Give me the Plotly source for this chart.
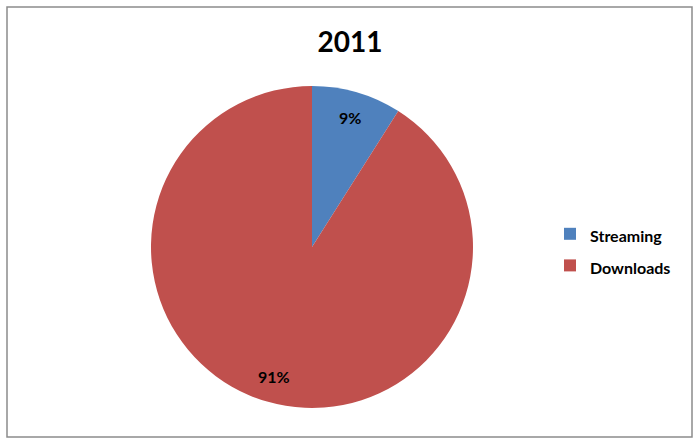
import math
import plotly.graph_objects as go

labels = ["Streaming", "Downloads"]
values = [9, 91]
colors = ["#4F81BD", "#C0504D"]
title_text = "2011"

W, H = 700, 445
# pie box in pixels (left, right, top, bottom)
PL, PR, PT, PB = 151, 473, 86, 408
LABEL_R = 0.84  # relative radial position of the percentage labels

fig = go.Figure(go.Pie(
    labels=labels,
    values=values,
    sort=False,
    direction="clockwise",
    rotation=0,
    marker=dict(colors=colors, line=dict(width=0)),
    textinfo="none",
    domain=dict(x=[PL / W, PR / W], y=[1 - PB / H, 1 - PT / H]),
    hoverinfo="label+percent",
))

# percentage labels placed at each slice's mid-angle, derived from the data
total = sum(values)
cx, cy = (PL + PR) / 2, (PT + PB) / 2
rad = (PR - PL) / 2
annotations = []
cum = 0
for v in values:
    mid = (cum + v / 2) / total * 2 * math.pi
    cum += v
    px = cx + LABEL_R * rad * math.sin(mid)
    py = cy - LABEL_R * rad * math.cos(mid)
    annotations.append(dict(
        x=px / W, y=1 - py / H, xref="paper", yref="paper",
        text="<b>%d%%</b>" % round(100 * v / total), showarrow=False,
        font=dict(family="Lato", size=16, color="black"),
        xanchor="center", yanchor="middle"))

fig.update_layout(
    width=W, height=H,
    margin=dict(l=0, r=0, t=0, b=0),
    paper_bgcolor="white",
    plot_bgcolor="white",
    title=dict(text="<b>" + title_text + "</b>", x=0.5, xanchor="center",
               y=1 - 42 / H, yanchor="middle",
               font=dict(family="Lato", size=28, color="black")),
    legend=dict(x=550 / W, xanchor="left", y=1 - 250 / H, yanchor="middle",
                font=dict(family="Lato", size=22, color="black", weight="bold"),
                bgcolor="rgba(0,0,0,0)"),
    annotations=annotations,
    shapes=[dict(type="rect", xref="paper", yref="paper",
                 x0=7 / W, x1=692 / W, y0=1 - 437 / H, y1=1 - 7 / H,
                 line=dict(color="#8c8c8c", width=1.5), fillcolor="rgba(0,0,0,0)")],
)

# legend entry text at chart size, while the larger legend font sets the row spacing
fig.for_each_trace(lambda t: t.update(
    labels=["<span style='font-size:16px'>%s</span>" % l for l in labels],
    hovertemplate="%{percent}<extra></extra>"))

fig.write_html("out.html", config={"displayModeBar": False},
               post_script="document.body.style.margin='0';")
